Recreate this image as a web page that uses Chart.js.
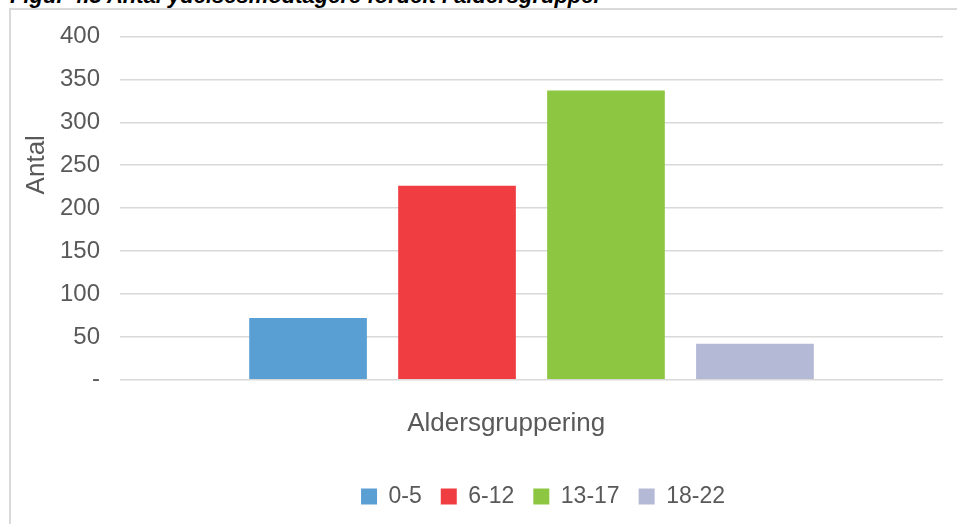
<!DOCTYPE html>
<html>
<head>
<meta charset="utf-8">
<script src="https://cdn.jsdelivr.net/npm/chart.js@4"></script>
<style>
  body { margin: 0; width: 957px; height: 524px; overflow: hidden; background: #fff; position: relative; font-family: "Liberation Sans", Arial, sans-serif; }
  #title { position: absolute; left: 10px; top: -17px; font: italic bold 22px "Liberation Sans", Arial, sans-serif; color: #000; white-space: nowrap; }
  #frame { position: absolute; left: 9px; top: 8px; width: 1100px; height: 600px; border-top: 2px solid #d9d9d9; border-left: 2px solid #d9d9d9; }
  #wrap { position: absolute; left: 0; top: 2px; width: 1086px; height: 522px; }
</style>
</head>
<body>
<div id="title">Figur 4.5 Antal ydelsesmodtagere fordelt i aldersgrupper</div>
<div id="frame"></div>
<div id="wrap"><canvas id="chart"></canvas></div>
<script>
const groups = ['0-5', '6-12', '13-17', '18-22']
const antal = [72, 226, 337, 42]
const colors = ['#5a9fd4', '#ef3d42', '#8dc641', '#b4b9d5']
const yTicks = [0, 50, 100, 150, 200, 250, 300, 350, 400]

const grey = '#595959'
const nb = n => '\u00a0'.repeat(n)

new Chart(document.getElementById('chart'), {
    type: 'bar',
    data: {
        labels: [''],
        datasets: groups.map((g, i) => ({
            label: g,
            data: [antal[i]],
            yAxisID: 'y',
            backgroundColor: colors[i],
            borderWidth: 0,
            categoryPercentage: 0.724,
            barPercentage: 0.79,
        }))
    },
    options: {
        responsive: true,
        maintainAspectRatio: false,
        animation: false,
        layout: { padding: { left: 0, right: 0, top: 7, bottom: 6 } },
        plugins: {
            tooltip: { enabled: false },
            legend: {
                position: 'bottom',
                labels: {
                    color: grey,
                    font: { size: 23, family: '"Liberation Sans", Arial' },
                    boxWidth: 16,
                    boxHeight: 16,
                    padding: 19,
                }
            }
        },
        scales: {
            x: {
                grid: { display: false },
                border: { display: false },
                ticks: { display: false },
                title: {
                    display: true,
                    // trailing spaces move the title a bit left, as in the original
                    text: 'Aldersgruppering' + nb(7),
                    color: grey,
                    font: { size: 26, family: '"Liberation Sans", Arial' },
                    padding: { top: 20, bottom: 27 },
                }
            },
            y: {
                min: 0,
                max: 400,
                afterBuildTicks: axis => { axis.ticks = yTicks.map(v => ({ value: v })) },
                afterFit: axis => { axis.width = 120 },
                grid: { color: '#d9d9d9', lineWidth: 1.5, drawTicks: false },
                border: { display: false },
                ticks: {
                    color: grey,
                    font: { size: 24, family: '"Liberation Sans", Arial' },
                    padding: 20,
                    callback: v => v === 0 ? '-' : v,
                },
                title: {
                    display: true,
                    text: nb(12) + 'Antal',
                    color: grey,
                    font: { size: 26, family: '"Liberation Sans", Arial' },
                    padding: { top: 21, bottom: 0 },
                }
            },
            // empty right axis, keeps room like the cropped original
            y2: {
                position: 'right',
                grid: { display: false },
                border: { display: false },
                ticks: { display: false },
                afterFit: axis => { axis.width = 143 },
            }
        }
    }
});
</script>
</body>
</html>
